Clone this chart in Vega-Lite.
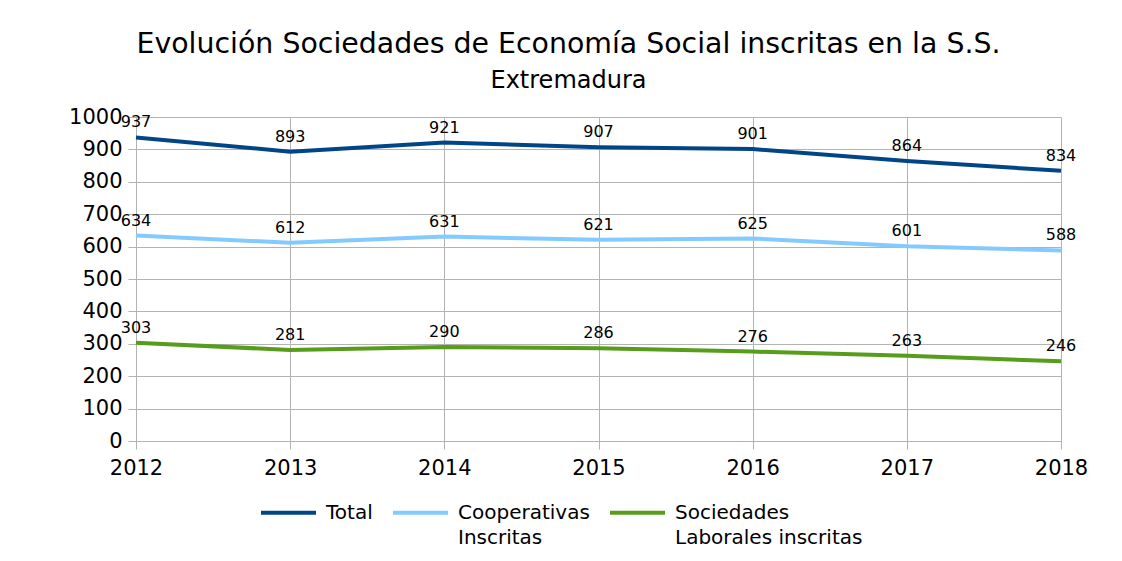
{
  "$schema": "https://vega.github.io/schema/vega-lite/v6.json",
  "width": 925,
  "height": 324,
  "autosize": "none",
  "padding": {"left": 136, "top": 117, "right": 61, "bottom": 120},
  "background": "white",
  "config": {
    "font": "DejaVu Sans",
    "view": {"stroke": null}
  },
  "title": {
    "text": "Evolución Sociedades de Economía Social inscritas en la S.S.",
    "subtitle": "Extremadura",
    "fontSize": 28.4,
    "fontWeight": "normal",
    "color": "#000000",
    "subtitleFontSize": 24,
    "subtitleColor": "#000000",
    "subtitlePadding": 10,
    "anchor": "middle",
    "dx": -30,
    "offset": 12
  },
  "data": {
    "values": [
      {"year": "2012", "serie": "Total", "value": 937},
      {"year": "2013", "serie": "Total", "value": 893},
      {"year": "2014", "serie": "Total", "value": 921},
      {"year": "2015", "serie": "Total", "value": 907},
      {"year": "2016", "serie": "Total", "value": 901},
      {"year": "2017", "serie": "Total", "value": 864},
      {"year": "2018", "serie": "Total", "value": 834},
      {"year": "2012", "serie": "Cooperativas Inscritas", "value": 634},
      {"year": "2013", "serie": "Cooperativas Inscritas", "value": 612},
      {"year": "2014", "serie": "Cooperativas Inscritas", "value": 631},
      {"year": "2015", "serie": "Cooperativas Inscritas", "value": 621},
      {"year": "2016", "serie": "Cooperativas Inscritas", "value": 625},
      {"year": "2017", "serie": "Cooperativas Inscritas", "value": 601},
      {"year": "2018", "serie": "Cooperativas Inscritas", "value": 588},
      {"year": "2012", "serie": "Sociedades Laborales inscritas", "value": 303},
      {"year": "2013", "serie": "Sociedades Laborales inscritas", "value": 281},
      {"year": "2014", "serie": "Sociedades Laborales inscritas", "value": 290},
      {"year": "2015", "serie": "Sociedades Laborales inscritas", "value": 286},
      {"year": "2016", "serie": "Sociedades Laborales inscritas", "value": 276},
      {"year": "2017", "serie": "Sociedades Laborales inscritas", "value": 263},
      {"year": "2018", "serie": "Sociedades Laborales inscritas", "value": 246}
    ]
  },
  "encoding": {
    "x": {
      "field": "year",
      "type": "ordinal",
      "scale": {"type": "point", "padding": 0},
      "axis": {
        "title": null,
        "labelAngle": 0,
        "labelFontSize": 21,
        "labelColor": "#000000",
        "labelPadding": 8,
        "tickSize": 8,
        "tickColor": "#b3b3b3",
        "domainColor": "#b3b3b3",
        "grid": true,
        "gridColor": "#b3b3b3",
        "gridOpacity": 1
      }
    },
    "y": {
      "field": "value",
      "type": "quantitative",
      "scale": {"domain": [0, 1000], "nice": false, "zero": true},
      "axis": {
        "title": null,
        "format": "d",
        "values": [0, 100, 200, 300, 400, 500, 600, 700, 800, 900, 1000],
        "labelFontSize": 21,
        "labelColor": "#000000",
        "labelPadding": 6,
        "tickSize": 8,
        "tickColor": "#b3b3b3",
        "domainColor": "#b3b3b3",
        "grid": true,
        "gridColor": "#b3b3b3",
        "gridOpacity": 1
      }
    },
    "color": {
      "field": "serie",
      "type": "nominal",
      "scale": {
        "domain": ["Total", "Cooperativas Inscritas", "Sociedades Laborales inscritas"],
        "range": ["#004586", "#83caff", "#579d1c"]
      },
      "legend": {
        "title": null,
        "orient": "none",
        "direction": "horizontal",
        "legendX": 123,
        "legendY": 366,
        "padding": 0,
        "symbolType": "stroke",
        "symbolSize": 3025,
        "symbolStrokeWidth": 4,
        "labelFontSize": 20,
        "labelColor": "#000000",
        "labelOffset": 8,
        "labelLimit": 300,
        "columnPadding": 12,
        "labelExpr": "datum.label == 'Cooperativas Inscritas' ? ['Cooperativas', 'Inscritas'] : datum.label == 'Sociedades Laborales inscritas' ? ['Sociedades', 'Laborales inscritas'] : ['Total', ' ']",
        "encode": {
          "labels": {"update": {"lineHeight": {"value": 25}}}
        }
      }
    }
  },
  "layer": [
    {
      "mark": {"type": "line", "strokeWidth": 4}
    },
    {
      "mark": {"type": "text", "fontSize": 16, "dy": -15, "baseline": "middle", "color": "#000000"},
      "encoding": {
        "text": {"field": "value", "type": "quantitative"},
        "color": {"value": "#000000"}
      }
    }
  ]
}
